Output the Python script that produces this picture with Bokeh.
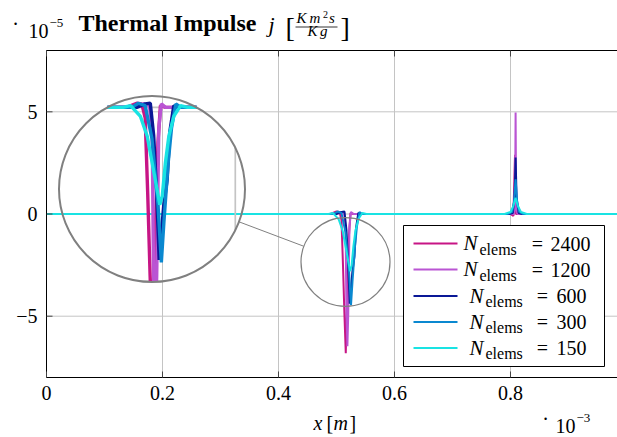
import math
from bokeh.plotting import figure
from bokeh.models import Label, Range1d, ColumnDataSource
from bokeh.core.properties import value
from bokeh.embed import file_html
from bokeh.resources import INLINE

# ---------------- data (x in 1e-3 m, j in 1e-5) ----------------
names = ["2400", "1200", "600", "300", "150"]
colors = ["#C71585", "#BA55D3", "#0A1896", "#0A88D0", "#19E3E3"]

x2400 = [0.0, 0.4897, 0.5000, 0.5052, 0.5086, 0.5112, 0.5136, 0.5160, 0.5176, 0.5216, 0.5241, 0.5293,
         0.8000, 0.8050, 0.8078, 0.8095, 0.8150, 1.0]
y2400 = [0.0, 0.0, 0.12, 0.10, -0.30, -2.50, -4.84, -6.81, -4.84, -1.00, 0.05, 0.0,
         0.0, -0.10, 2.90, 0.0, 0.0, 0.0]

x1200 = [0.0, 0.4966, 0.5069, 0.5129, 0.5157, 0.5171, 0.5188, 0.5203, 0.5224, 0.5250, 0.5293,
         0.8000, 0.8060, 0.8078, 0.8088, 0.8098, 0.8120, 1.0]
y1200 = [0.0, 0.0, 0.10, 0.05, -0.62, -4.84, -6.47, -4.84, -0.62, 0.10, 0.0,
         0.0, 0.0, 0.30, 4.97, 0.30, 0.0, 0.0]

x600 = [0.0, 0.5000, 0.5086, 0.5138, 0.5172, 0.5203, 0.5228, 0.5274, 0.5309, 0.5336, 0.5376, 0.5414,
        0.7980, 0.8040, 0.8070, 0.8088, 0.8105, 0.8140, 0.8200, 1.0]
y600 = [0.0, 0.0, 0.10, 0.12, -0.80, -2.50, -4.39, -2.83, -2.08, -0.70, 0.05, 0.0,
        0.0, 0.05, 0.80, 2.76, 0.80, 0.05, 0.0, 0.0]

x300 = [0.0, 0.4948, 0.5017, 0.5086, 0.5155, 0.5216, 0.5250, 0.5276, 0.5319, 0.5353, 0.5397, 0.5448,
        0.7950, 0.8030, 0.8060, 0.8088, 0.8115, 0.8150, 0.8220, 1.0]
y300 = [0.0, 0.0, 0.12, 0.05, -0.90, -2.80, -4.46, -3.30, -1.60, -0.60, 0.10, 0.0,
        0.0, 0.10, 0.60, 1.70, 0.60, 0.10, 0.0, 0.0]

x150 = [0.0, 0.4862, 0.4938, 0.5038, 0.5107, 0.5157, 0.5207, 0.5234, 0.5259, 0.5291, 0.5326, 0.5376,
        0.5445, 0.5517, 0.7900, 0.8000, 0.8050, 0.8088, 0.8125, 0.8180, 0.8280, 1.0]
y150 = [0.0, 0.0, 0.05, -0.26, -0.83, -1.60, -2.37, -2.80, -2.56, -1.60, -0.83, -0.26,
        0.05, 0.0, 0.0, 0.10, 0.40, 0.80, 0.40, 0.10, 0.0, 0.0]

series_x = [x2400, x1200, x600, x300, x150]
series_y = [y2400, y1200, y600, y300, y150]

x_ticks = [0, 0.2, 0.4, 0.6, 0.8]
x_tick_labels = ["0", "0.2", "0.4", "0.6", "0.8"]
y_ticks = [-5, 0, 5]
y_tick_labels = ["\u22125", "0", "5"]

# ---------------- layout (page pixels) ----------------
W, H = 617, 437
FRAME_L, FRAME_T, FRAME_B, FRAME_R = 46, 50, 377, 617
X0, X1 = 0.0, 0.9845          # axis limits shown inside the frame
Y0, Y1 = -8.0, 8.0
SX = (FRAME_R - FRAME_L) / (X1 - X0)
SY = (FRAME_B - FRAME_T) / (Y1 - Y0)


def dx(px):
    return X0 + (px - FRAME_L) / SX


def dy(py):
    return Y1 - (py - FRAME_T) / SY


FONT = "Liberation Serif"
GRID = "#C4C4C4"
SPYC = "#808080"
TICKC = "#444444"

# the canvas itself is the drawing area; axes are drawn from the tick arrays
p = figure(width=W, height=H, output_backend="svg", toolbar_location=None,
           x_range=Range1d(dx(0), dx(W)), y_range=Range1d(dy(H), dy(0)),
           x_axis_type=None, y_axis_type=None,
           min_border_left=0, min_border_right=0, min_border_top=0, min_border_bottom=0)
p.outline_line_color = None
p.grid.visible = False
p.background_fill_color = "white"
p.border_fill_color = "white"

XR = dx(FRAME_R)

# grid
p.segment(x0=x_ticks, x1=x_ticks, y0=[Y0] * len(x_ticks), y1=[Y1] * len(x_ticks),
          line_color=GRID, line_width=1)
p.segment(x0=[X0] * len(y_ticks), x1=[XR] * len(y_ticks), y0=y_ticks, y1=y_ticks,
          line_color=GRID, line_width=1)

# ---------------- main curves ----------------
LW = 2
for xs, ys, c in zip(series_x, series_y, colors):
    p.line(xs, ys, line_color=c, line_width=LW)

# ---------------- spy (magnified view) ----------------
MAG = 1.7
BIG_C = (dx(151.5), dy(188.5))
BIG_R = 93
SRC_C = (dx(345), dy(261.5))
SMALL_R = 44.5


def clip_to_circle(xs, ys, cx, cy, r):
    X = [(x - cx) * SX for x in xs]
    Y = [(y - cy) * SY for y in ys]
    ox, oy = [], []
    last_in = False
    for i in range(len(X) - 1):
        x0, y0, x1, y1 = X[i], Y[i], X[i + 1], Y[i + 1]
        ddx, ddy = x1 - x0, y1 - y0
        a = ddx * ddx + ddy * ddy
        if a == 0:
            continue
        b = 2 * (x0 * ddx + y0 * ddy)
        c = x0 * x0 + y0 * y0 - r * r
        disc = b * b - 4 * a * c
        if disc <= 0:
            last_in = False
            continue
        s = math.sqrt(disc)
        t0 = max(0.0, (-b - s) / (2 * a))
        t1 = min(1.0, (-b + s) / (2 * a))
        if t0 >= t1:
            last_in = False
            continue
        if not (last_in and t0 == 0.0):
            ox.append(float("nan"))
            oy.append(float("nan"))
        ox.append(x0 + t0 * ddx)
        oy.append(y0 + t0 * ddy)
        ox.append(x0 + t1 * ddx)
        oy.append(y0 + t1 * ddy)
        last_in = (t1 == 1.0)
    return [cx + v / SX for v in ox], [cy + v / SY for v in oy]


def magnify(xs, ys):
    return ([BIG_C[0] + MAG * (x - SRC_C[0]) for x in xs],
            [BIG_C[1] + MAG * (y - SRC_C[1]) for y in ys])


for gx in x_ticks:
    mx, my = magnify([gx, gx], [Y0, Y1])
    cx_, cy_ = clip_to_circle(mx, my, BIG_C[0], BIG_C[1], BIG_R)
    if cx_:
        p.line(cx_, cy_, line_color=GRID, line_width=1.7)
for gy in y_ticks:
    mx, my = magnify([X0, X1], [gy, gy])
    cx_, cy_ = clip_to_circle(mx, my, BIG_C[0], BIG_C[1], BIG_R)
    if cx_:
        p.line(cx_, cy_, line_color=GRID, line_width=1.7)

for xs, ys, c in zip(series_x, series_y, colors):
    mx, my = magnify(xs, ys)
    cx_, cy_ = clip_to_circle(mx, my, BIG_C[0], BIG_C[1], BIG_R)
    p.line(cx_, cy_, line_color=c, line_width=LW * MAG)

p.circle(x=[BIG_C[0]], y=[BIG_C[1]], radius=BIG_R, radius_units="screen",
         fill_color=None, line_color=SPYC, line_width=2)
p.circle(x=[SRC_C[0]], y=[SRC_C[1]], radius=SMALL_R, radius_units="screen",
         fill_color=None, line_color=SPYC, line_width=1.2)
vx = (SRC_C[0] - BIG_C[0]) * SX
vy = (SRC_C[1] - BIG_C[1]) * SY
vn = math.hypot(vx, vy)
ux, uy = vx / vn, vy / vn
p.segment(x0=[BIG_C[0] + ux * BIG_R / SX], y0=[BIG_C[1] + uy * BIG_R / SY],
          x1=[SRC_C[0] - ux * SMALL_R / SX], y1=[SRC_C[1] - uy * SMALL_R / SY],
          line_color=SPYC, line_width=1)

# ---------------- frame and ticks ----------------
p.segment(x0=[X0, X0, X0], x1=[X0, XR, XR], y0=[Y0, Y0, Y1], y1=[Y1, Y0, Y1],
          line_color="black", line_width=1)
TL = 6
p.segment(x0=x_ticks, x1=x_ticks, y0=[Y0] * len(x_ticks), y1=[Y0 + TL / SY] * len(x_ticks),
          line_color=TICKC, line_width=1)
p.segment(x0=x_ticks, x1=x_ticks, y0=[Y1] * len(x_ticks), y1=[Y1 - TL / SY] * len(x_ticks),
          line_color=TICKC, line_width=1)
p.segment(x0=[X0] * len(y_ticks), x1=[X0 + TL / SX] * len(y_ticks), y0=y_ticks, y1=y_ticks,
          line_color=TICKC, line_width=1)

# tick labels
xsrc = ColumnDataSource(dict(x=x_ticks, y=[dy(392)] * len(x_ticks), t=x_tick_labels))
p.text(x="x", y="y", text="t", source=xsrc, text_font=value(FONT), text_font_size="20px",
       text_align="center", text_baseline="middle", text_color="black")
ysrc = ColumnDataSource(dict(x=[dx(37)] * len(y_ticks), y=y_ticks, t=y_tick_labels))
p.text(x="x", y="y", text="t", source=ysrc, text_font=value(FONT), text_font_size="20px",
       text_align="right", text_baseline="middle", text_color="black")


def lab(text, px, base_py, size, style="normal", align="left"):
    p.add_layout(Label(x=dx(px), y=dy(base_py - 0.34 * size), text=text, text_font=FONT,
                       text_font_size=f"{size}px", text_font_style=style,
                       text_align=align, text_baseline="middle", text_color="black"))


# ---------------- legend (manual, to render N_elems) ----------------
LEG_L, LEG_R, LEG_T, LEG_B = 403, 604, 225, 366
p.quad(left=[dx(LEG_L)], right=[dx(LEG_R)], top=[dy(LEG_T)], bottom=[dy(LEG_B)],
       fill_color="white", line_color="black", line_width=1)
entry_y = [243, 269, 295.5, 321.5, 347.5]

for name, c, yc in zip(names, colors, entry_y):
    p.segment(x0=[dx(413)], x1=[dx(457)], y0=[dy(yc)], y1=[dy(yc)], line_color=c, line_width=2)
    if len(name) == 4:
        nl, sl, eqc, numl = 463, 479, 537, 550
    else:
        nl, sl, eqc, numl = 469, 485, 542, 556
    lab("N", nl, yc + 7, 21, "italic")
    lab("elems", sl, yc + 11, 16)
    lab("=", eqc, yc + 7, 20, align="center")
    lab(name, numl, yc + 7, 20)

# ---------------- title ----------------
lab("Thermal Impulse", 78, 31, 24, "bold")
lab("j", 268, 31, 22, "italic")
lab("[", 285, 37, 28)
lab("K", 296, 23, 15, "italic")
lab("m", 309, 23, 15, "italic")
lab("2", 322.5, 17, 10)
lab("s", 328.5, 23, 15, "italic")
p.segment(x0=[dx(295)], x1=[dx(337)], y0=[dy(26.5)], y1=[dy(26.5)], line_color="black", line_width=0.8)
lab("K", 307, 36, 15, "italic")
lab("g", 319.5, 36, 15, "italic")
lab("]", 340, 37, 28)

# y multiplier
lab("\u00b7", 15, 30.5, 20, align="center")
lab("10", 28, 37, 20)
lab("\u22125", 49, 27, 13)

# x label and multiplier
lab("x", 313, 429, 20, "italic")
lab("[", 326, 429, 20)
lab("m", 333, 429, 20, "italic")
lab("]", 349, 429, 20)
lab("\u00b7", 545, 425.5, 20, align="center")
lab("10", 555, 432, 20)
lab("\u22123", 576, 422, 13)

open("out.html", "w").write(file_html(p, INLINE))
